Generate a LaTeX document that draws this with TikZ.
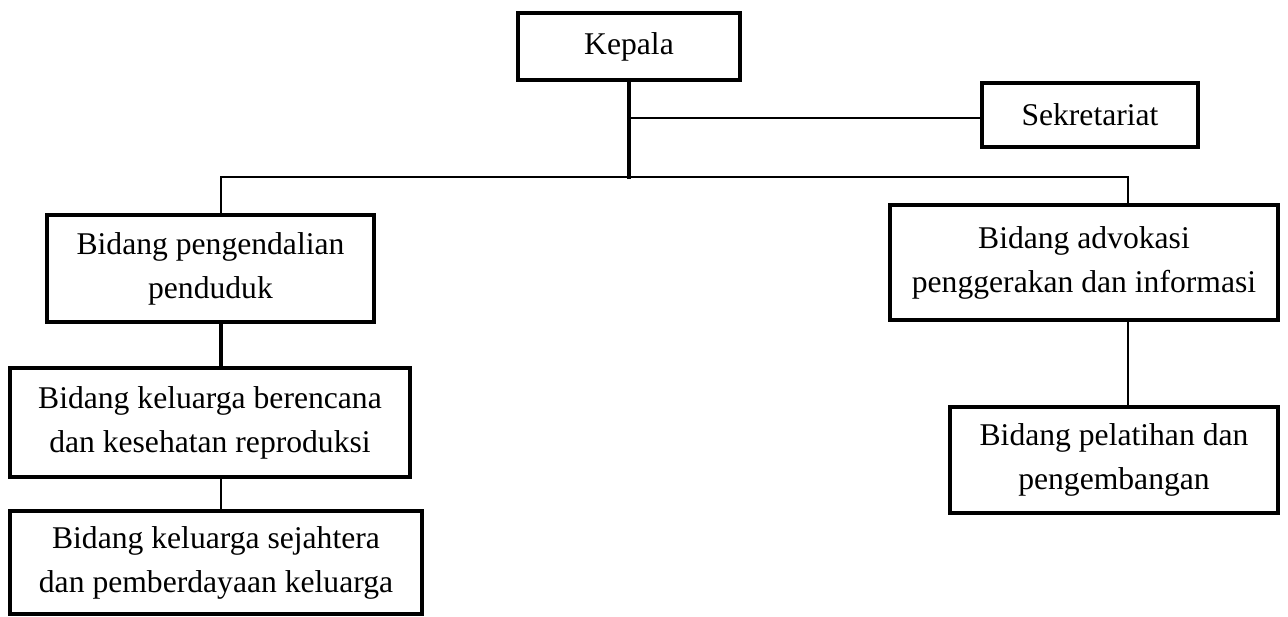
\documentclass[tikz,border=0pt]{standalone}
\usepackage{fontspec}
\setmainfont{Liberation Serif}
\usepackage{tikz}
\usetikzlibrary{positioning,calc}

\begin{document}
\begin{tikzpicture}
[x=0.02cm,y=-0.02cm,line cap=rect,
unit box/.style={draw,line width=2.4pt,align=center,inner sep=0pt,
  font=\fontsize{18}{25}\selectfont},
important line/.style={line width=2.6pt},
link line/.style={line width=1.2pt}]
% Frame
\useasboundingbox (0,0) rectangle (1288,617);
% The boxes
\node[unit box,minimum width=222*0.02cm,minimum height=67*0.02cm] (kepala) at (629,46.5) {Kepala};
\node[unit box,minimum width=216*0.02cm,minimum height=64*0.02cm] (sekretariat) at (1090,115) {Sekretariat};
\node[unit box,minimum width=327*0.02cm,minimum height=107*0.02cm] (pengendalian) at (210.5,268.5)
{Bidang pengendalian\\penduduk};
\node[unit box,minimum width=400*0.02cm,minimum height=109*0.02cm] (berencana) at (210,422.5)
{Bidang keluarga berencana\\dan kesehatan reproduksi};
\node[unit box,minimum width=412*0.02cm,minimum height=103*0.02cm] (sejahtera) at (216,562.5)
{Bidang keluarga sejahtera\\dan pemberdayaan keluarga};
\node[unit box,minimum width=388*0.02cm,minimum height=115*0.02cm] (advokasi) at (1084,262.5)
{Bidang advokasi\\penggerakan dan informasi};
\node[unit box,minimum width=328*0.02cm,minimum height=106*0.02cm] (pelatihan) at (1114,460)
{Bidang pelatihan dan\\pengembangan};
% The lines
\coordinate (bus left) at (221,177);
\coordinate (bus right) at (1128,177);
\draw[important line] (kepala.south) -- (kepala.south |- bus left);
\draw[link line] (kepala.south |- 0,118) -- (sekretariat.west |- 0,118);
\draw[link line] (bus left |- pengendalian.north) -- (bus left) -- (bus right)
-- (bus right |- advokasi.north);
\draw[important line] (bus left |- pengendalian.south) -- (bus left |- berencana.north);
\draw[link line] (bus left |- berencana.south) -- (bus left |- sejahtera.north);
\draw[link line] (bus right |- advokasi.south) -- (bus right |- pelatihan.north);
\end{tikzpicture}
\end{document}
